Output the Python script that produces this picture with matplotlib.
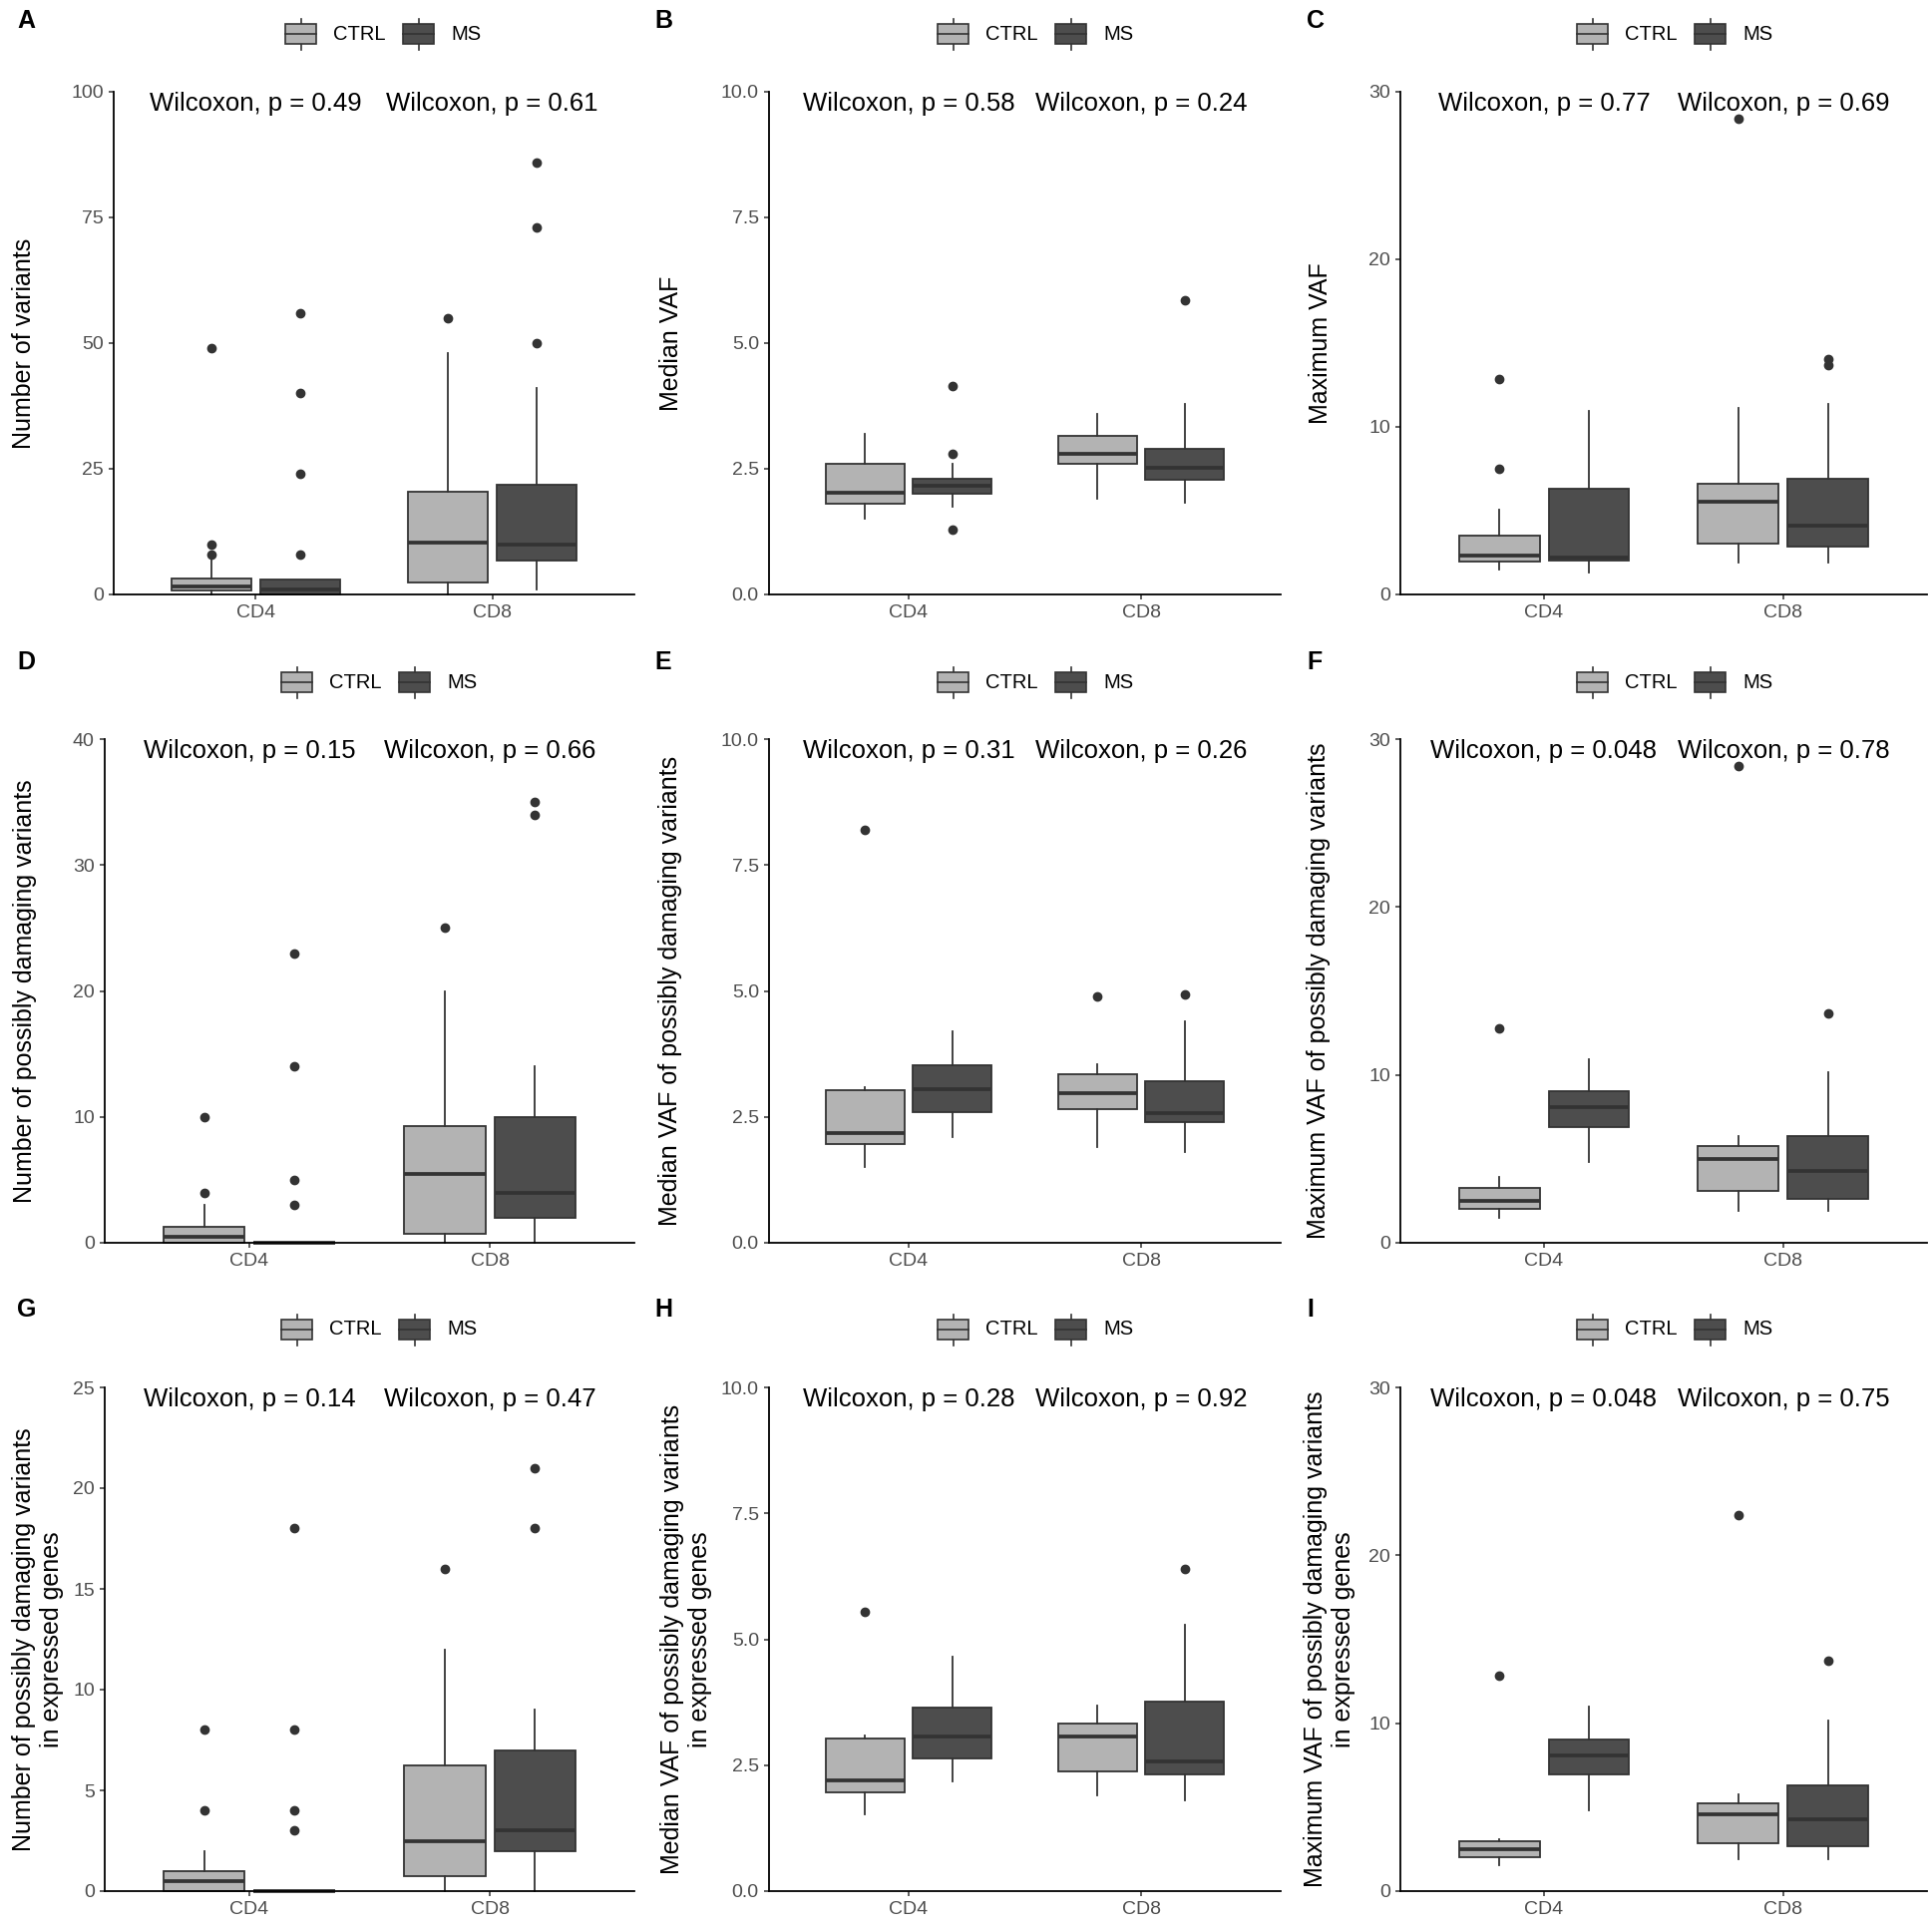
import matplotlib
matplotlib.use("Agg")
import matplotlib.pyplot as plt
from matplotlib.patches import Rectangle

plt.rcParams['font.family'] = ['Liberation Sans', 'DejaVu Sans']

W, H = 1937, 1936

# panel letters, axis titles and scales
letters = ["A", "B", "C", "D", "E", "F", "G", "H", "I"]
ylabels = [
    "Number of variants",
    "Median VAF",
    "Maximum VAF",
    "Number of possibly damaging variants",
    "Median VAF of possibly damaging variants",
    "Maximum VAF of possibly damaging variants",
    "Number of possibly damaging variants\nin expressed genes",
    "Median VAF of possibly damaging variants\nin expressed genes",
    "Maximum VAF of possibly damaging variants\nin expressed genes",
]
ymax = [100, 10, 30, 40, 10, 30, 25, 10, 30]
ystep = [25, 2.5, 10, 10, 2.5, 10, 5, 2.5, 10]

cells = ["CD4", "CD8"]
groups = ["CTRL", "MS"]
p_cd4 = ["0.49", "0.58", "0.77", "0.15", "0.31", "0.048", "0.14", "0.28", "0.048"]
p_cd8 = ["0.61", "0.24", "0.69", "0.66", "0.26", "0.78", "0.47", "0.92", "0.75"]

# box statistics per panel, order: CD4 CTRL, CD4 MS, CD8 CTRL, CD8 MS
q1 = [
    [0.75, 0, 2.4, 6.8],
    [1.80, 2.00, 2.60, 2.29],
    [1.94, 2.04, 3.02, 2.87],
    [0, 0, 0.72, 2],
    [1.96, 2.60, 2.66, 2.39],
    [2.01, 6.92, 3.07, 2.62],
    [0, 0, 0.76, 2],
    [1.97, 2.64, 2.37, 2.31],
    [2.02, 6.96, 2.83, 2.66],
]
med = [
    [1.5, 1, 10.4, 10],
    [2.02, 2.17, 2.80, 2.51],
    [2.33, 2.21, 5.52, 4.10],
    [0.5, 0, 5.5, 4],
    [2.18, 3.05, 2.97, 2.58],
    [2.48, 8.05, 4.98, 4.29],
    [0.5, 0, 2.5, 3],
    [2.20, 3.06, 3.07, 2.58],
    [2.51, 8.09, 4.60, 4.30],
]
q3 = [
    [3.25, 3, 20.5, 21.9],
    [2.60, 2.31, 3.15, 2.90],
    [3.51, 6.30, 6.60, 6.92],
    [1.25, 0, 9.25, 10],
    [3.03, 3.52, 3.34, 3.21],
    [3.24, 9.03, 5.76, 6.35],
    [1, 0, 6.25, 7],
    [3.02, 3.65, 3.32, 3.76],
    [3.0, 9.05, 5.24, 6.27],
]
wlo = [
    [0, 0, 0, 1],
    [1.50, 1.74, 1.90, 1.82],
    [1.47, 1.30, 1.91, 1.91],
    [0, 0, 0, 0],
    [1.50, 2.09, 1.91, 1.80],
    [1.47, 4.83, 1.89, 1.89],
    [0, 0, 0, 0],
    [1.52, 2.17, 1.91, 1.80],
    [1.52, 4.84, 1.92, 1.92],
]
whi = [
    [7, 3, 48, 41],
    [3.19, 2.59, 3.60, 3.79],
    [5.08, 10.96, 11.16, 11.36],
    [3, 0, 20, 14],
    [3.08, 4.19, 3.54, 4.39],
    [3.92, 10.96, 6.35, 10.13],
    [2, 0, 12, 9],
    [3.09, 4.65, 3.69, 5.29],
    [3.07, 10.99, 5.78, 10.15],
]
fliers = [
    [[8, 10, 49], [8, 24, 40, 56], [55], [50, 73, 86]],
    [[], [1.29, 2.80, 4.15], [], [5.86]],
    [[7.48, 12.83], [], [28.4], [13.71, 14.03]],
    [[4, 10], [3, 5, 14, 23], [25], [34, 35]],
    [[8.19], [], [4.89], [4.93]],
    [[12.78], [], [28.38], [13.66]],
    [[4, 8], [3, 4, 8, 18], [16], [18, 21]],
    [[5.55], [], [], [6.40]],
    [[12.83], [], [22.40], [13.72]],
]

# layout in pixels
ax_left = [114, 771, 1404, 105, 771, 1404, 105, 771, 1404]
col_right = [636, 1284, 1932]
row_top = [92, 741, 1391]
row_bot = [596, 1246, 1896]
ylab_x = [24, 673, 1324, 25, 672, 1322, 38, 688, 1333]
leg_x = [286, 940, 1581, 282, 940, 1581, 282, 940, 1581]
leg_y = [34, 684, 1333]
letter_x = [17, 656, 1310]
letter_top = [9, 652, 1301]

fills = ["#B3B3B3", "#4D4D4D"]
edge = "#333333"

fig = plt.figure(figsize=(W / 100, H / 100), dpi=100)

# overlay for legends, letters and axis titles (pixel coordinates)
ov = fig.add_axes([0, 0, 1, 1])
ov.set_xlim(0, W)
ov.set_ylim(H, 0)
ov.axis("off")

offs = [-0.1875, 0.1875]

for i in range(9):
    r, c = i // 3, i % 3
    left, right = ax_left[i], col_right[c]
    top, bot = row_top[r], row_bot[r]
    ax = fig.add_axes([left / W, 1 - bot / H, (right - left) / W, (bot - top) / H])

    stats, pos = [], []
    for k in range(4):
        stats.append(dict(med=med[i][k], q1=q1[i][k], q3=q3[i][k],
                          whislo=wlo[i][k], whishi=whi[i][k], fliers=fliers[i][k]))
        pos.append(k // 2 + 1 + offs[k % 2])
    bp = ax.bxp(stats, positions=pos, widths=0.3375, patch_artist=True, showcaps=False,
                boxprops=dict(edgecolor=edge, linewidth=1.3),
                medianprops=dict(color=edge, linewidth=2.7),
                whiskerprops=dict(color=edge, linewidth=1.3),
                flierprops=dict(marker="o", markerfacecolor=edge, markeredgecolor=edge,
                                markersize=6, linestyle="none"))
    for k, patch in enumerate(bp["boxes"]):
        patch.set_facecolor(fills[k % 2])
    for key in ["boxes", "medians", "whiskers", "fliers"]:
        for a in bp[key]:
            a.set_clip_on(False)

    ax.set_xlim(0.4, 2.6)
    ax.set_ylim(0, ymax[i])
    ticks = [ystep[i] * j for j in range(int(round(ymax[i] / ystep[i])) + 1)]
    ax.set_yticks(ticks)
    if ystep[i] == 2.5:
        ax.set_yticklabels(["%.1f" % t for t in ticks])
    else:
        ax.set_yticklabels(["%d" % t for t in ticks])
    ax.set_xticks([1, 2])
    ax.set_xticklabels(cells)
    ax.tick_params(direction="out", length=3.3, width=1.1, color=edge,
                   labelsize=14, labelcolor="#4D4D4D", pad=4)
    for s in ["top", "right"]:
        ax.spines[s].set_visible(False)
    for s in ["left", "bottom"]:
        ax.spines[s].set_linewidth(1.3)
        ax.spines[s].set_color("black")
    ax.patch.set_visible(False)

    # wilcoxon labels
    tr = ax.get_xaxis_transform()
    ax.text(1, 0.977, "Wilcoxon, p = " + p_cd4[i], transform=tr, ha="center", va="center",
            fontsize=18.5, color="black")
    ax.text(2, 0.977, "Wilcoxon, p = " + p_cd8[i], transform=tr, ha="center", va="center",
            fontsize=18.5, color="black")

    # y axis title
    ov.text(ylab_x[i], (top + bot) / 2, ylabels[i], rotation=90, ha="center", va="center",
            fontsize=18, multialignment="center", color="black")

    # panel letter
    ov.text(letter_x[c], letter_top[r], letters[i], ha="left", va="top",
            fontsize=18, fontweight="bold", color="black")

    # legend
    x0, yc = leg_x[i], leg_y[r]
    for g in range(2):
        kx = x0 + g * 118
        ov.plot([kx + 15.5, kx + 15.5], [yc - 15.5, yc + 15.5], color=edge, lw=1.2, zorder=2)
        ov.add_patch(Rectangle((kx, yc - 9.75), 31, 19.5, facecolor=fills[g],
                               edgecolor=edge, lw=1.2, zorder=3))
        ov.plot([kx, kx + 31], [yc, yc], color=edge, lw=1.2, zorder=4)
        ov.text(kx + 48, yc, groups[g], ha="left", va="center", fontsize=14.5, color="black")

fig.savefig("out.png", dpi=100, facecolor="white")
